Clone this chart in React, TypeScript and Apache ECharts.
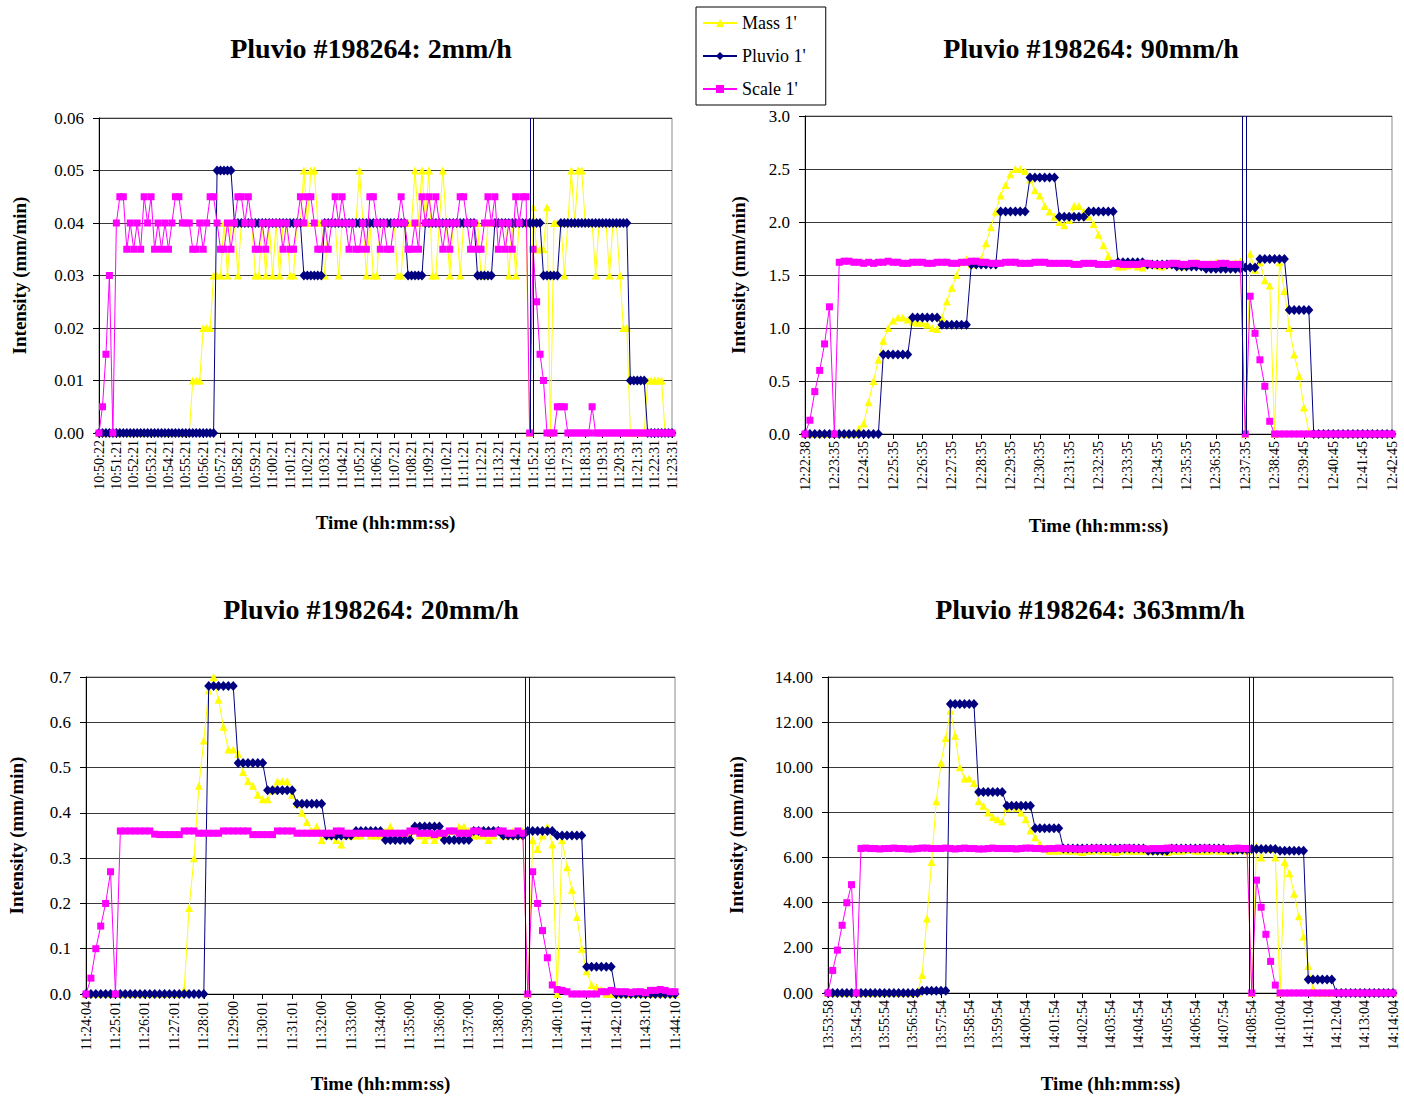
import React, { useEffect, useRef } from "react";
import * as echarts from "echarts";

// ---------- Panel 1: 2mm/h ----------
const p1Labels = ["10:50:22","10:51:21","10:52:21","10:53:21","10:54:21","10:55:21","10:56:21","10:57:21","10:58:21","10:59:21","11:00:21","11:01:21","11:02:21","11:03:21","11:04:21","11:05:21","11:06:21","11:07:21","11:08:21","11:09:21","11:10:21","11:11:21","11:12:21","11:13:21","11:14:21","11:15:21","11:16:31","11:17:31","11:18:31","11:19:31","11:20:31","11:21:31","11:22:31","11:23:31"];
const p1Mass = [
0,0,0,0,0,0,0,0,0,0,
0,0,0,0,0,0,0,0,0,0,
0,0,0,0,0,0,0,0.01,0.01,0.01,
0.02,0.02,0.02,0.03,0.03,0.03,0.04,0.03,0.04,0.04,
0.03,0.04,0.04,0.04,0.04,0.03,0.03,0.04,0.03,0.04,
0.03,0.04,0.03,0.04,0.04,0.03,0.03,0.04,0.04,0.05,
0.04,0.05,0.05,0.04,0.04,0.03,0.04,0.04,0.04,0.03,
0.04,0.04,0.04,0.04,0.04,0.05,0.04,0.03,0.04,0.03,
0.03,0.04,0.04,0.04,0.04,0.04,0.03,0.03,0.04,0.04,
0.04,0.05,0.04,0.05,0.04,0.05,0.03,0.03,0.04,0.05,
0.04,0.03,0.04,0.04,0.03,0.04,0.04,0.04,0.04,0.04,
0.03,0.03,0.04,0.04,0.04,0.04,0.04,0.04,0.03,0.04,
0.03,0.04,0.04,0.04,0,0.043,0.035,0.035,0.035,0.043,
0,0.04,0.04,0.04,0.03,0.04,0.05,0.04,0.05,0.05,
0.04,0.04,0.04,0.03,0.04,0.04,0.04,0.03,0.04,0.04,
0.03,0.02,0.02,0,0,0,0,0,0.01,0.01,
0.01,0.01,0.01,0,0,0];
const p1Pluvio = [
0,0,0,0,0,0,0,0,0,0,
0,0,0,0,0,0,0,0,0,0,
0,0,0,0,0,0,0,0,0,0,
0,0,0,0,0.05,0.05,0.05,0.05,0.05,0.04,
0.04,0.04,0.04,0.04,0.04,0.04,0.04,0.04,0.04,0.04,
0.04,0.04,0.04,0.04,0.04,0.04,0.04,0.04,0.04,0.03,
0.03,0.03,0.03,0.03,0.03,0.04,0.04,0.04,0.04,0.04,
0.04,0.04,0.04,0.04,0.04,0.04,0.04,0.04,0.04,0.04,
0.04,0.04,0.04,0.04,0.04,0.04,0.04,0.04,0.04,0.03,
0.03,0.03,0.03,0.03,0.04,0.04,0.04,0.04,0.04,0.04,
0.04,0.04,0.04,0.04,0.04,0.04,0.04,0.04,0.04,0.03,
0.03,0.03,0.03,0.03,0.04,0.04,0.04,0.04,0.04,0.04,
0.04,0.04,0.04,0.04,0.04,0.04,0.04,0.04,0.03,0.03,
0.03,0.03,0.03,0.04,0.04,0.04,0.04,0.04,0.04,0.04,
0.04,0.04,0.04,0.04,0.04,0.04,0.04,0.04,0.04,0.04,
0.04,0.04,0.04,0.01,0.01,0.01,0.01,0.01,0,0,
0,0,0,0,0,0];
const p1Scale = [
0,0.005,0.015,0.03,0,0.04,0.045,0.045,0.035,0.04,
0.035,0.04,0.035,0.045,0.04,0.045,0.035,0.04,0.035,0.04,
0.035,0.04,0.045,0.045,0.04,0.04,0.04,0.035,0.035,0.04,
0.035,0.04,0.045,0.045,0.04,0.035,0.035,0.04,0.035,0.04,
0.045,0.045,0.04,0.045,0.04,0.035,0.035,0.04,0.035,0.04,
0.04,0.04,0.04,0.035,0.04,0.035,0.035,0.04,0.045,0.04,
0.045,0.045,0.04,0.035,0.035,0.04,0.035,0.04,0.045,0.04,
0.045,0.04,0.035,0.04,0.035,0.035,0.04,0.035,0.045,0.045,
0.04,0.035,0.04,0.035,0.035,0.04,0.04,0.045,0.04,0.035,
0.035,0.04,0.035,0.045,0.04,0.045,0.04,0.045,0.04,0.035,
0.04,0.035,0.04,0.04,0.045,0.045,0.04,0.035,0.04,0.035,
0.035,0.04,0.045,0.04,0.045,0.035,0.04,0.035,0.04,0.035,
0.045,0.04,0.045,0.045,0,0.035,0.025,0.015,0.01,0,
0,0,0.005,0.005,0.005,0,0,0,0,0,
0,0,0.005,0,0,0,0,0,0,0,
0,0,0,0,0,0,0,0,0,0,
0,0,0,0,0,0];
const p1Breaks = [124.2, 125.1];

// ---------- Panel 2: 90mm/h ----------
const p2Labels = ["12:22:38","12:23:35","12:24:35","12:25:35","12:26:35","12:27:35","12:28:35","12:29:35","12:30:35","12:31:35","12:32:35","12:33:35","12:34:35","12:35:35","12:36:35","12:37:35","12:38:45","12:39:45","12:40:45","12:41:45","12:42:45"];
const p2Mass = [
0,0,0,0,0,0,0,0,0,0,
0,0.05,0.1,0.3,0.5,0.7,0.88,1.0,1.07,1.1,
1.1,1.08,1.06,1.05,1.05,1.03,1.0,0.99,1.1,1.25,
1.38,1.5,1.62,1.65,1.6,1.62,1.65,1.8,1.95,2.1,
2.25,2.35,2.45,2.5,2.5,2.48,2.4,2.3,2.25,2.15,
2.1,2.05,2.0,1.97,2.02,2.15,2.15,2.1,2.05,1.98,
1.88,1.78,1.68,1.62,1.58,1.58,1.59,1.6,1.58,1.57,
1.6,1.61,1.59,1.58,1.6,1.61,1.6,1.58,1.59,1.6,
1.62,1.6,1.59,1.61,1.62,1.6,1.58,1.6,1.62,1.63,
0,1.7,1.55,1.62,1.45,1.4,0,1.62,1.35,1.0,
0.75,0.55,0.25,0.02,0,0,0,0,0,0,
0,0,0,0,0,0,0,0,0,0,
0];
const p2Pluvio = [
0,0,0,0,0,0,0,0,0,0,
0,0,0,0,0,0,0.75,0.75,0.75,0.75,
0.75,0.75,1.1,1.1,1.1,1.1,1.1,1.1,1.03,1.03,
1.03,1.03,1.03,1.03,1.6,1.6,1.6,1.6,1.6,1.6,
2.1,2.1,2.1,2.1,2.1,2.1,2.42,2.42,2.42,2.42,
2.42,2.42,2.05,2.05,2.05,2.05,2.05,2.05,2.1,2.1,
2.1,2.1,2.1,2.1,1.62,1.62,1.62,1.62,1.62,1.62,
1.6,1.6,1.6,1.6,1.6,1.6,1.58,1.58,1.58,1.58,
1.58,1.58,1.56,1.56,1.56,1.56,1.56,1.56,1.56,1.56,
1.57,1.57,1.57,1.65,1.65,1.65,1.65,1.65,1.65,1.17,
1.17,1.17,1.17,1.17,0,0,0,0,0,0,
0,0,0,0,0,0,0,0,0,0,
0];
const p2Scale = [
0,0.13,0.4,0.6,0.85,1.2,0,1.62,1.63,1.63,
1.62,1.62,1.61,1.62,1.61,1.62,1.62,1.63,1.62,1.62,
1.61,1.61,1.62,1.62,1.62,1.61,1.61,1.62,1.62,1.62,
1.61,1.61,1.62,1.62,1.63,1.63,1.62,1.62,1.61,1.61,
1.61,1.62,1.62,1.62,1.61,1.61,1.61,1.62,1.62,1.62,
1.61,1.61,1.61,1.61,1.61,1.6,1.6,1.61,1.61,1.61,
1.6,1.6,1.6,1.61,1.61,1.6,1.6,1.6,1.6,1.61,
1.61,1.6,1.6,1.6,1.6,1.61,1.61,1.6,1.6,1.61,
1.61,1.6,1.6,1.6,1.6,1.61,1.61,1.6,1.6,1.6,
0,1.3,0.95,0.7,0.45,0.12,0,0,0,0,
0,0,0,0,0,0,0,0,0,0,
0,0,0,0,0,0,0,0,0,0,
0];
const p2Breaks = [89.3, 90.3];

// ---------- Panel 3: 20mm/h ----------
const p3Labels = ["11:24:04","11:25:01","11:26:01","11:27:01","11:28:01","11:29:00","11:30:01","11:31:01","11:32:00","11:33:00","11:34:00","11:35:00","11:36:00","11:37:00","11:38:00","11:39:00","11:40:10","11:41:10","11:42:10","11:43:10","11:44:10"];
const p3Mass = [
0,0,0,0,0,0,0,0,0,0,
0,0,0,0,0,0,0,0,0,0,
0.01,0.19,0.3,0.46,0.56,0.67,0.7,0.65,0.59,0.54,
0.54,0.53,0.49,0.47,0.46,0.44,0.43,0.43,0.45,0.47,
0.47,0.47,0.44,0.42,0.4,0.38,0.36,0.37,0.34,0.35,
0.35,0.34,0.33,0.35,0.35,0.35,0.35,0.36,0.35,0.35,
0.35,0.36,0.37,0.35,0.35,0.35,0.35,0.36,0.35,0.34,
0.35,0.34,0.35,0.35,0.36,0.36,0.37,0.37,0.36,0.35,
0.35,0.35,0.34,0.35,0.36,0.35,0.35,0.36,0.35,0.36,
0,0.34,0.32,0.35,0.37,0.33,0,0.34,0.28,0.23,
0.17,0.1,0.05,0.02,0.015,0.01,0,0,0,0,
0,0,0,0,0,0,0,0,0,0,
0];
const p3Pluvio = [
0,0,0,0,0,0,0,0,0,0,
0,0,0,0,0,0,0,0,0,0,
0,0,0,0,0,0.68,0.68,0.68,0.68,0.68,
0.68,0.51,0.51,0.51,0.51,0.51,0.51,0.45,0.45,0.45,
0.45,0.45,0.45,0.42,0.42,0.42,0.42,0.42,0.42,0.35,
0.35,0.35,0.35,0.35,0.35,0.36,0.36,0.36,0.36,0.36,
0.36,0.34,0.34,0.34,0.34,0.34,0.34,0.37,0.37,0.37,
0.37,0.37,0.37,0.34,0.34,0.34,0.34,0.34,0.34,0.36,
0.36,0.36,0.36,0.36,0.36,0.35,0.35,0.35,0.35,0.35,
0.36,0.36,0.36,0.36,0.36,0.36,0.35,0.35,0.35,0.35,
0.35,0.35,0.06,0.06,0.06,0.06,0.06,0.06,0,0,
0,0,0,0,0,0,0,0,0,0,
0];
const p3Scale = [
0,0.035,0.1,0.15,0.2,0.27,0,0.36,0.36,0.36,
0.36,0.36,0.36,0.36,0.353,0.352,0.352,0.352,0.352,0.352,
0.36,0.36,0.36,0.355,0.355,0.355,0.355,0.355,0.36,0.36,
0.36,0.36,0.36,0.36,0.352,0.352,0.352,0.352,0.352,0.36,
0.36,0.36,0.36,0.355,0.355,0.355,0.355,0.355,0.355,0.355,
0.355,0.36,0.36,0.355,0.355,0.355,0.355,0.355,0.355,0.355,
0.355,0.355,0.355,0.355,0.355,0.355,0.36,0.36,0.355,0.355,
0.355,0.352,0.355,0.355,0.36,0.36,0.355,0.355,0.355,0.36,
0.36,0.355,0.355,0.355,0.36,0.36,0.355,0.355,0.36,0.355,
0,0.27,0.2,0.14,0.08,0.02,0.01,0.008,0.005,0,
0,0,0,0,0,0.005,0.005,0.008,0.005,0.005,
0.005,0.003,0.005,0.005,0.003,0.008,0.008,0.01,0.008,0.005,
0.005];
const p3Breaks = [89.5, 90.4];

// ---------- Panel 4: 363mm/h ----------
const p4Labels = ["13:53:58","13:54:54","13:55:54","13:56:54","13:57:54","13:58:54","13:59:54","14:00:54","14:01:54","14:02:54","14:03:54","14:04:54","14:05:54","14:06:54","14:07:54","14:08:54","14:10:04","14:11:04","14:12:04","14:13:04","14:14:04"];
const p4Mass = [
0,0,0,0,0,0,0,0,0,0,
0,0,0,0,0,0,0,0,0,0,
0.8,3.3,5.8,8.5,10.2,11.3,12.5,11.4,10.0,9.5,
9.5,9.3,8.5,8.3,8.0,7.8,7.7,7.6,8.2,8.3,
8.2,8.0,7.7,7.2,6.9,6.6,6.4,6.3,6.3,6.3,
6.35,6.3,6.3,6.3,6.25,6.3,6.3,6.35,6.3,6.3,
6.3,6.25,6.3,6.35,6.3,6.3,6.3,6.3,6.35,6.3,
6.3,6.3,6.25,6.3,6.3,6.3,6.35,6.35,6.3,6.3,
6.3,6.3,6.35,6.3,6.3,6.3,6.3,6.35,6.35,6.3,
0,6.5,6.0,6.4,6.4,6.0,0,5.8,5.3,4.4,
3.4,2.5,1.2,0.2,0,0,0,0,0,0,
0,0,0,0,0,0,0,0,0,0,
0];
const p4Pluvio = [
0,0,0,0,0,0,0,0,0,0,
0,0,0,0,0,0,0,0,0,0,
0.1,0.1,0.1,0.1,0.1,0.1,12.8,12.8,12.8,12.8,
12.8,12.8,8.9,8.9,8.9,8.9,8.9,8.9,8.3,8.3,
8.3,8.3,8.3,8.3,7.3,7.3,7.3,7.3,7.3,7.3,
6.4,6.4,6.4,6.4,6.4,6.4,6.4,6.4,6.4,6.4,
6.4,6.4,6.4,6.4,6.4,6.4,6.4,6.4,6.3,6.3,
6.3,6.3,6.3,6.4,6.4,6.4,6.4,6.4,6.4,6.4,
6.4,6.4,6.4,6.4,6.4,6.35,6.35,6.35,6.35,6.35,
6.38,6.38,6.38,6.38,6.38,6.38,6.3,6.3,6.3,6.3,
6.3,6.3,0.6,0.6,0.6,0.6,0.6,0.6,0,0,
0,0,0,0,0,0,0,0,0,0,
0];
const p4Scale = [
0,1.0,1.9,3.0,4.0,4.8,0,6.4,6.42,6.4,
6.4,6.38,6.4,6.4,6.42,6.4,6.4,6.38,6.38,6.4,
6.42,6.42,6.4,6.4,6.4,6.42,6.4,6.38,6.4,6.42,
6.4,6.4,6.38,6.38,6.4,6.42,6.4,6.4,6.4,6.4,
6.38,6.4,6.42,6.42,6.4,6.4,6.38,6.4,6.4,6.42,
6.4,6.4,6.4,6.38,6.38,6.4,6.4,6.42,6.4,6.4,
6.4,6.38,6.4,6.42,6.42,6.4,6.4,6.4,6.38,6.4,
6.4,6.4,6.42,6.42,6.4,6.4,6.4,6.4,6.38,6.4,
6.42,6.4,6.4,6.4,6.4,6.38,6.4,6.42,6.4,6.4,
0,5.0,3.8,2.6,1.4,0.35,0,0,0,0,
0,0,0,0,0,0,0,0,0,0,
0,0,0,0,0,0,0,0,0,0,
0];
const p4Breaks = [89.4, 90.4];

const SERIES_NAMES = ["Mass 1'", "Pluvio 1'", "Scale 1'"];
const COLORS = ["#FFFF00", "#000080", "#FF00FF"];

const FONT = "'Liberation Serif', 'DejaVu Serif', 'Times New Roman', serif";

type Panel = {
  title: string;
  labels: string[];
  per: number;
  mass: number[];
  pluvio: number[];
  scale: number[];
  breaks: number[];
  yMax: number;
  yStep: number;
  dec: number;
  grid: { left: number; top: number; width: number; height: number };
  titlePos: { x: number; y: number };
  yNameGap: number;
  xNameGap: number;
};

const panels: Panel[] = [
  {
    title: "Pluvio #198264: 2mm/h", labels: p1Labels, per: 5,
    mass: p1Mass, pluvio: p1Pluvio, scale: p1Scale, breaks: p1Breaks,
    yMax: 0.06, yStep: 0.01, dec: 2,
    grid: { left: 99, top: 118, width: 573, height: 315 },
    titlePos: { x: 366, y: 29 }, yNameGap: 70, xNameGap: 80,
  },
  {
    title: "Pluvio #198264: 90mm/h", labels: p2Labels, per: 6,
    mass: p2Mass, pluvio: p2Pluvio, scale: p2Scale, breaks: p2Breaks,
    yMax: 3, yStep: 0.5, dec: 1,
    grid: { left: 805, top: 116, width: 587, height: 318 },
    titlePos: { x: 1086, y: 29 }, yNameGap: 57, xNameGap: 82,
  },
  {
    title: "Pluvio #198264: 20mm/h", labels: p3Labels, per: 6,
    mass: p3Mass, pluvio: p3Pluvio, scale: p3Scale, breaks: p3Breaks,
    yMax: 0.7, yStep: 0.1, dec: 1,
    grid: { left: 86, top: 677, width: 589, height: 317 },
    titlePos: { x: 366, y: 590 }, yNameGap: 60, xNameGap: 80,
  },
  {
    title: "Pluvio #198264: 363mm/h", labels: p4Labels, per: 6,
    mass: p4Mass, pluvio: p4Pluvio, scale: p4Scale, breaks: p4Breaks,
    yMax: 14, yStep: 2, dec: 2,
    grid: { left: 828, top: 677, width: 565, height: 316 },
    titlePos: { x: 1085, y: 590 }, yNameGap: 82, xNameGap: 81,
  },
];

const toPts = (arr: number[]) => arr.map((v, i) => [i, v]);

function buildOption() {
  const grid: any[] = [];
  const xAxis: any[] = [];
  const yAxis: any[] = [];
  const series: any[] = [];
  const title: any[] = [];

  panels.forEach((p, k) => {
    const n = (p.labels.length - 1) * p.per;
    grid.push({ ...p.grid, show: true, borderColor: "#8a8a8a", borderWidth: 1, backgroundColor: "#fff" });
    title.push({
      text: p.title,
      left: p.titlePos.x,
      top: p.titlePos.y,
      textAlign: "center",
      textStyle: { fontFamily: FONT, fontWeight: "bold", fontSize: 28, color: "#000" },
    });
    xAxis.push({
      type: "value",
      gridIndex: k,
      min: 0,
      max: n,
      interval: p.per,
      name: "Time (hh:mm:ss)",
      nameLocation: "middle",
      nameGap: p.xNameGap,
      nameTextStyle: { fontFamily: FONT, fontWeight: "bold", fontSize: 19, color: "#000" },
      axisLine: { show: true, onZero: false, lineStyle: { color: "#000", width: 1 } },
      axisTick: { show: true, inside: false, length: 5, lineStyle: { color: "#000" } },
      splitLine: { show: false },
      axisLabel: {
        rotate: 90,
        margin: 7,
        fontFamily: FONT,
        fontSize: 14,
        color: "#000",
        formatter: (v: number) => {
          const idx = Math.round(v / p.per);
          return p.labels[idx] ?? "";
        },
      },
    });
    yAxis.push({
      type: "value",
      gridIndex: k,
      min: 0,
      max: p.yMax,
      interval: p.yStep,
      name: "Intensity (mm/min)",
      nameLocation: "middle",
      nameGap: p.yNameGap,
      nameTextStyle: { fontFamily: FONT, fontWeight: "bold", fontSize: 19, color: "#000" },
      axisLine: { show: true, lineStyle: { color: "#000", width: 1 } },
      axisTick: { show: true, inside: false, length: 6, lineStyle: { color: "#000" } },
      splitLine: { show: true, lineStyle: { color: "#3a3a3a", width: 1 } },
      axisLabel: {
        margin: 15,
        fontFamily: FONT,
        fontSize: 17,
        color: "#000",
        formatter: (v: number) => v.toFixed(p.dec),
      },
    });
    const common = {
      type: "line",
      xAxisIndex: k,
      yAxisIndex: k,
      showAllSymbol: true,
      silent: true,
    };
    series.push({
      ...common,
      name: SERIES_NAMES[0],
      data: toPts(p.mass),
      symbol: "triangle",
      symbolSize: 8,
      itemStyle: { color: COLORS[0] },
      lineStyle: { color: COLORS[0], width: 1 },
      z: 2,
    });
    series.push({
      ...common,
      name: SERIES_NAMES[1],
      data: toPts(p.pluvio),
      symbol: "diamond",
      symbolSize: [9, 10],
      itemStyle: { color: COLORS[1] },
      lineStyle: { color: COLORS[1], width: 1 },
      z: 3,
      markLine: {
        silent: true,
        symbol: ["none", "none"],
        label: { show: false },
        lineStyle: { color: COLORS[1], width: 1, type: "solid" },
        data: p.breaks.map((b) => ({ xAxis: b })),
      },
    });
    series.push({
      ...common,
      name: SERIES_NAMES[2],
      data: toPts(p.scale),
      symbol: "rect",
      symbolSize: 7,
      itemStyle: { color: COLORS[2] },
      lineStyle: { color: COLORS[2], width: 1 },
      z: 4,
    });
  });

  return {
    animation: false,
    backgroundColor: "#fff",
    title,
    legend: {
      data: SERIES_NAMES,
      orient: "vertical",
      left: 696,
      top: 7,
      itemWidth: 34,
      itemHeight: 10,
      itemGap: 15,
      padding: [7, 20, 7, 6],
      borderColor: "#000",
      borderWidth: 1,
      backgroundColor: "#fff",
      textStyle: { fontFamily: FONT, fontSize: 18, color: "#000" },
    },
    grid,
    xAxis,
    yAxis,
    series,
  };
}

export default function App() {
  const ref = useRef<HTMLDivElement | null>(null);
  useEffect(() => {
    document.body.style.margin = "0";
    if (!ref.current) return;
    const chart = echarts.init(ref.current, null, { renderer: "svg" });
    chart.setOption(buildOption() as any);
    return () => {
      chart.dispose();
    };
  }, []);
  return <div ref={ref} style={{ width: 1404, height: 1099, background: "#fff" }} />;
}
